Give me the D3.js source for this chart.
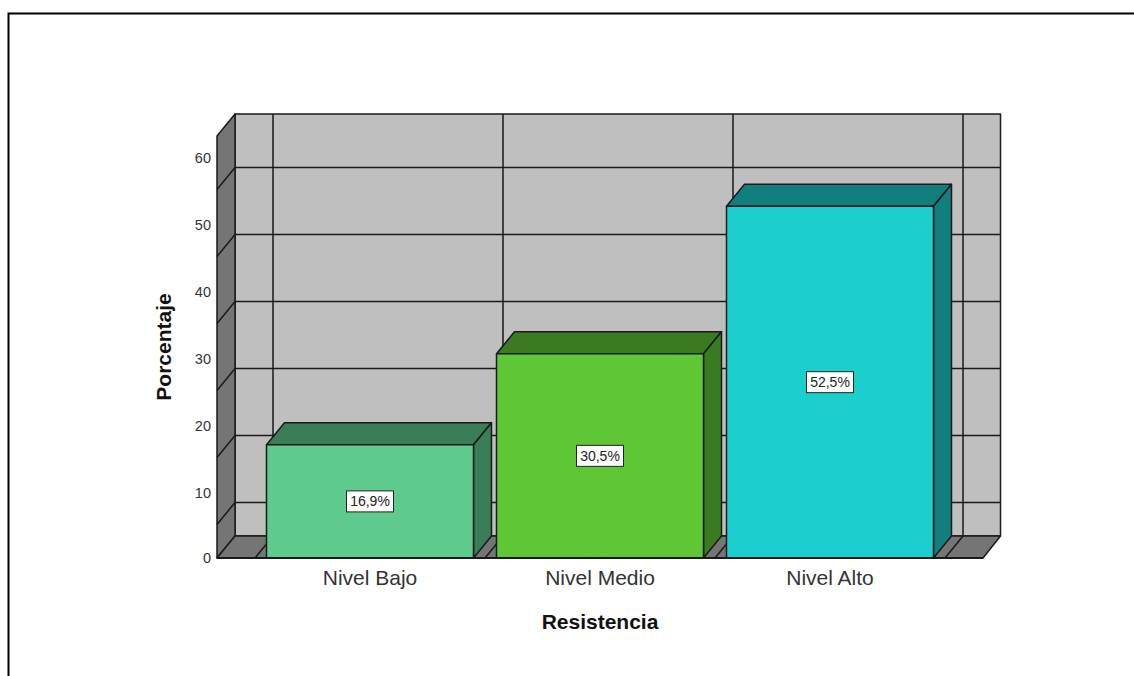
<!DOCTYPE html>
<html>
<head>
<meta charset="utf-8">
<script src="https://cdn.jsdelivr.net/npm/d3@7"></script>
<style>
  html, body { margin: 0; padding: 0; background: #fff; }
  svg { display: block; }
  text { font-family: "Liberation Sans", Arial, sans-serif; }
</style>
</head>
<body>
<div id="chart"></div>
<script>
const categories = ["Nivel Bajo", "Nivel Medio", "Nivel Alto"];
const percentages = [16.9, 30.5, 52.5];
const valueLabels = ["16,9%", "30,5%", "52,5%"];
const yTicks = [0, 10, 20, 30, 40, 50, 60];
const gridValues = [5, 15, 25, 35, 45, 55];
const frontColors = ["#5ecb8c", "#5fc636", "#1ccfcf"];
const sideColors = ["#3a7d56", "#3a7a20", "#127f7f"];

const width = 1134, height = 676;
const depthX = 18, depthY = 22;
const left = 217, right = 983, floorY = 558, topY = 136;
const stroke = "#1a1a1a";

const svg = d3.select("#chart").append("svg")
  .attr("width", width)
  .attr("height", height);

const y = d3.scaleLinear().domain([0, 63]).range([floorY, topY]);
const x = d3.scaleBand()
  .domain(categories)
  .range([255, 945])
  .paddingInner(0.1)
  .paddingOuter(0.05);

const poly = pts => "M" + pts.map(p => p.join(",")).join("L") + "Z";

// outer frame, open on the right and bottom
svg.append("path")
  .attr("d", `M8.5,${height}V13.5H${width}`)
  .attr("fill", "none")
  .attr("stroke", "#000")
  .attr("stroke-width", 2);

const room = svg.append("g")
  .attr("stroke", stroke)
  .attr("stroke-width", 1.5)
  .attr("stroke-linejoin", "round");

// back wall
room.append("path")
  .attr("d", poly([[left + depthX, topY - depthY], [right + depthX - 0.5, topY - depthY],
                   [right + depthX - 0.5, floorY - depthY], [left + depthX, floorY - depthY]]))
  .attr("fill", "#bfbfbf");

// left wall
room.append("path")
  .attr("d", poly([[left, topY], [left + depthX, topY - depthY],
                   [left + depthX, floorY - depthY], [left, floorY]]))
  .attr("fill", "#757575");

// floor
room.append("path")
  .attr("d", poly([[left, floorY], [left + depthX, floorY - depthY],
                   [right + depthX - 0.5, floorY - depthY], [right, floorY]]))
  .attr("fill", "#757575");

// horizontal grid, back wall and then down the left wall
room.selectAll(".grid-h")
  .data(gridValues)
  .join("path")
  .attr("class", "grid-h")
  .attr("fill", "none")
  .attr("d", d => {
    const gy = y(d);
    return `M${right + depthX - 0.5},${gy - depthY}H${left + depthX}L${left},${gy}`;
  });

// vertical grid at the category boundaries, carried across the floor
const boundaries = categories.map(c => x(c) - x.step() * x.paddingInner() / 2);
boundaries.push(x(categories[2]) + x.bandwidth() + x.step() * x.paddingInner() / 2);

room.selectAll(".grid-v")
  .data(boundaries)
  .join("path")
  .attr("class", "grid-v")
  .attr("fill", "none")
  .attr("d", d => `M${d + depthX},${topY - depthY}V${floorY - depthY}L${d},${floorY}`);

// bars
const bars = svg.selectAll(".bar")
  .data(categories)
  .join("g")
  .attr("class", "bar")
  .attr("stroke", stroke)
  .attr("stroke-width", 1.5)
  .attr("stroke-linejoin", "round");

bars.append("path")
  .attr("fill", (d, i) => sideColors[i])
  .attr("d", (d, i) => {
    const x0 = x(d), x1 = x0 + x.bandwidth(), t = y(percentages[i]);
    return poly([[x0, t], [x0 + depthX, t - depthY], [x1 + depthX, t - depthY], [x1, t]]);
  });

bars.append("path")
  .attr("fill", (d, i) => sideColors[i])
  .attr("d", (d, i) => {
    const x1 = x(d) + x.bandwidth(), t = y(percentages[i]);
    return poly([[x1, t], [x1 + depthX, t - depthY], [x1 + depthX, floorY - depthY], [x1, floorY]]);
  });

bars.append("rect")
  .attr("x", d => x(d))
  .attr("y", (d, i) => y(percentages[i]))
  .attr("width", x.bandwidth())
  .attr("height", (d, i) => floorY - y(percentages[i]))
  .attr("fill", (d, i) => frontColors[i]);

// front edge of the floor
svg.append("line")
  .attr("x1", left).attr("x2", right)
  .attr("y1", floorY).attr("y2", floorY)
  .attr("stroke", stroke)
  .attr("stroke-width", 2);

// value labels at the middle of each bar
const labels = svg.selectAll(".value-label")
  .data(categories)
  .join("g")
  .attr("class", "value-label")
  .attr("transform", (d, i) =>
    `translate(${x(d) + x.bandwidth() / 2},${y(percentages[i] / 2)})`);

labels.append("rect")
  .attr("x", -23.5).attr("y", -10.5)
  .attr("width", 47).attr("height", 21)
  .attr("fill", "#fff")
  .attr("stroke", "#222")
  .attr("stroke-width", 1);

labels.append("text")
  .attr("text-anchor", "middle")
  .attr("dy", "0.36em")
  .attr("font-size", 14)
  .attr("fill", "#222")
  .text((d, i) => valueLabels[i]);

// axes
const yAxis = svg.append("g")
  .attr("transform", `translate(${left},2)`)
  .call(d3.axisLeft(y).tickValues(yTicks).tickSize(0).tickPadding(6).tickFormat(d3.format("d")));
yAxis.select(".domain").remove();
yAxis.selectAll("text")
  .attr("font-size", 14.5)
  .attr("font-family", '"Liberation Sans", Arial, sans-serif')
  .attr("fill", "#333");
// the zero label sits level with the floor edge
yAxis.selectAll(".tick").filter(d => d === 0).select("text").attr("dy", "0.2em");

const xAxis = svg.append("g")
  .attr("transform", `translate(0,${floorY})`)
  .call(d3.axisBottom(x).tickSize(0).tickPadding(12));
xAxis.select(".domain").remove();
xAxis.selectAll("text")
  .attr("font-size", 21)
  .attr("font-family", '"Liberation Sans", Arial, sans-serif')
  .attr("fill", "#333");

// axis titles
svg.append("text")
  .attr("x", 600).attr("y", 629)
  .attr("text-anchor", "middle")
  .attr("font-size", 21)
  .attr("font-weight", "bold")
  .attr("fill", "#111")
  .text("Resistencia");

svg.append("text")
  .attr("transform", "translate(171,347) rotate(-90)")
  .attr("text-anchor", "middle")
  .attr("font-size", 21)
  .attr("font-weight", "bold")
  .attr("fill", "#111")
  .text("Porcentaje");
</script>
</body>
</html>
